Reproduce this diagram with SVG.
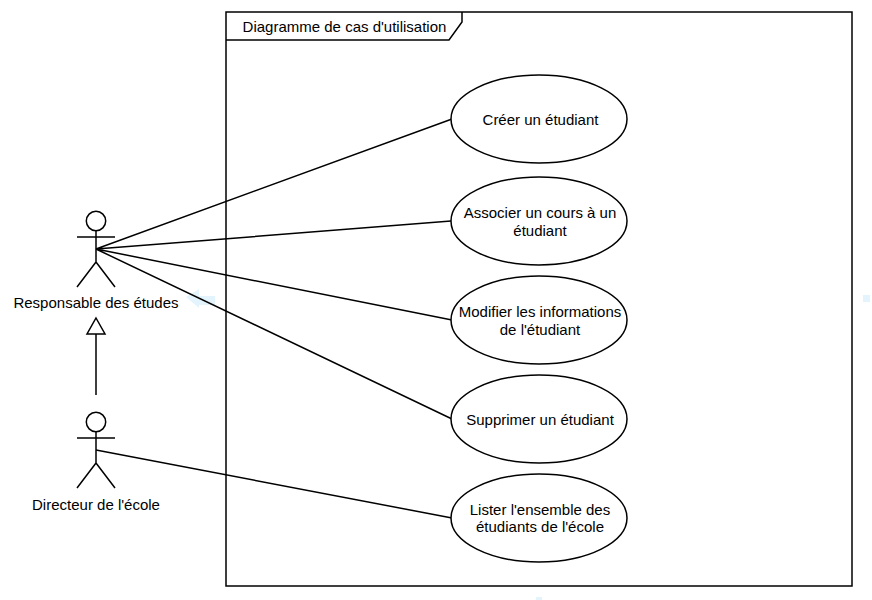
<svg xmlns="http://www.w3.org/2000/svg" width="872" height="600" viewBox="0 0 872 600">
<style>
.l{fill:none;stroke:#000;stroke-width:1.5}
.e{fill:#fff;stroke:#000;stroke-width:1.5}
text{font-family:"Liberation Sans",Arial,sans-serif;font-size:15px;fill:#000;text-anchor:middle}
.m{fill:#e3f4fd;stroke:none}
</style>
<defs>
<g id="actor"><circle class="e" cx="96" cy="0" r="9.7"/><path class="l" d="M96 10V41M77 16H115M96 41L77 66M96 41L115 66"/></g>
</defs>
<rect width="872" height="600" fill="#fff"/>
<g id="marks"><path class="m" d="M186 297L199 289V296H215V305H199V308Z"/><rect class="m" x="863" y="295" width="7" height="7"/><rect class="m" x="536" y="597" width="6" height="3"/></g>
<g id="frame"><rect class="l" x="226" y="12" width="626" height="574"/><path class="l" d="M226 40H449L462 22V12"/><text x="344.500" y="32">Diagramme de cas d'utilisation</text></g>
<g id="connectors">
<path class="l" d="M96 249L452 119M96 249L451 221M96 249L452 320M96 249L452 419M96 450L452 518M96 395V334"/>
<path class="e" d="M96 318L105 334H87Z"/>
</g>
<g id="actor1"><use href="#actor" y="221"/><text x="96" y="308">Responsable des études</text></g>
<g id="actor2"><use href="#actor" y="422"/><text x="96" y="510">Directeur de l'école</text></g>
<g id="uc1"><ellipse class="e" cx="539" cy="119" rx="88" ry="44"/><text x="540.500" y="125">Créer un étudiant</text></g>
<g id="uc2"><ellipse class="e" cx="539" cy="221" rx="88" ry="44"/><text x="540" y="218">Associer un cours à un</text><text x="540" y="236">étudiant</text></g>
<g id="uc3"><ellipse class="e" cx="539" cy="320" rx="88" ry="44"/><text x="540" y="317">Modifier les informations</text><text x="540" y="335">de l'étudiant</text></g>
<g id="uc4"><ellipse class="e" cx="539" cy="419" rx="88" ry="44"/><text x="540" y="425">Supprimer un étudiant</text></g>
<g id="uc5"><ellipse class="e" cx="539" cy="518" rx="88" ry="44"/><text x="540" y="515">Lister l'ensemble des</text><text x="540" y="532">étudiants de l'école</text></g>
</svg>
